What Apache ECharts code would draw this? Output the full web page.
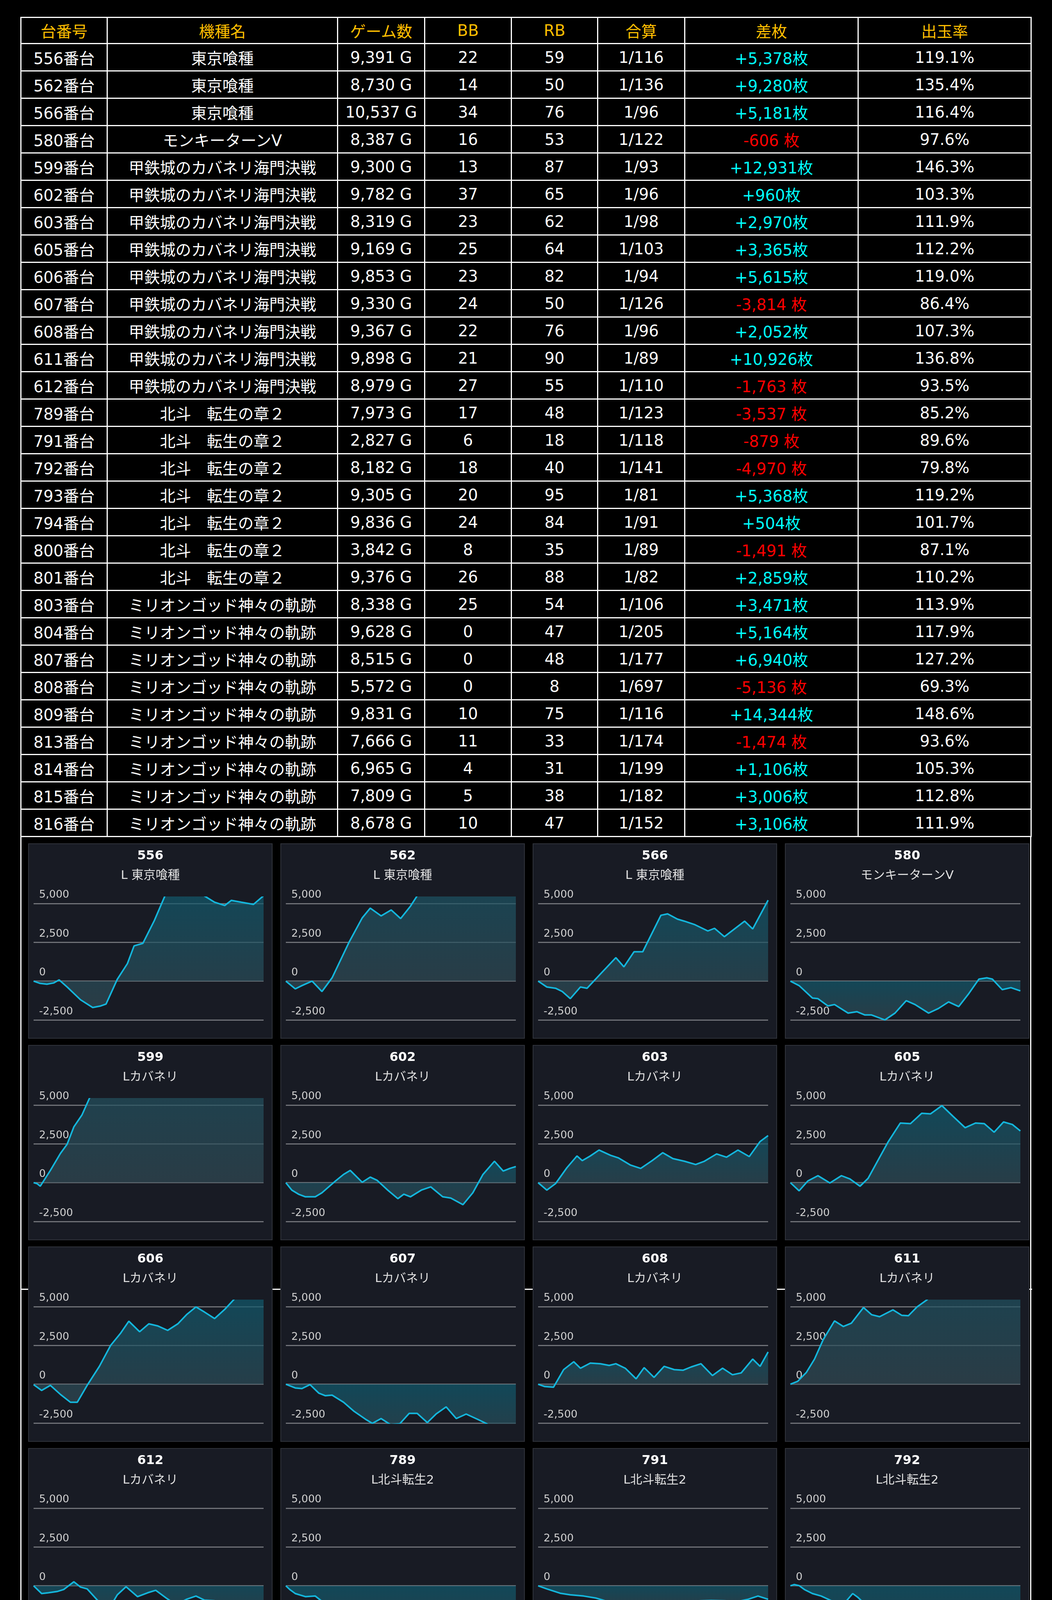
<!DOCTYPE html>
<html>
<head>
<meta charset="utf-8">
<script src="https://cdn.jsdelivr.net/npm/echarts@6/dist/echarts.min.js"></script>
<style>
html, body { margin:0; padding:0; background:#000; }
body { width:2694px; height:6291px; position:relative; overflow:hidden; }
#tbl { position:absolute; left:52px; top:43px; border-collapse:collapse; table-layout:fixed;
       font-family:'DejaVu Sans','Noto Sans CJK JP',sans-serif; font-size:40px; color:#fff; z-index:2; }
#tbl td, #tbl th { border:3px solid #fff; text-align:center; vertical-align:middle; padding:0;
       white-space:nowrap; overflow:hidden; height:67px; }
#tbl th { color:#ffbf00; font-weight:normal; height:64px; }
.plus { color:#00ffff; }
.minus { color:#ff0000; }
.vline { position:absolute; background:#fff; width:3px; top:2140px; height:4151px; }
.hline { position:absolute; background:#fff; height:3px; left:52px; width:2591px; }
.panel { position:absolute; width:626px; height:500px; background:#181b24; border:2px solid #30333b; box-sizing:border-box; }
#charts { position:absolute; left:0; top:2150px; width:2694px; height:4141px; z-index:3; }
</style>
</head>
<body>
<table id="tbl">
  <colgroup>
    <col style="width:221px"><col style="width:590px"><col style="width:223px"><col style="width:222px">
    <col style="width:221px"><col style="width:223px"><col style="width:444px"><col style="width:443px">
  </colgroup>
  <thead><tr id="head"></tr></thead>
  <tbody id="body"></tbody>
</table>
<div id="frames"></div>
<div id="charts"></div>
<script>
var headers = ['台番号', '機種名', 'ゲーム数', 'BB', 'RB', '合算', '差枚', '出玉率'];

var unitNos = [556, 562, 566, 580, 599, 602, 603, 605, 606, 607, 608, 611, 612, 789, 791, 792, 793, 794, 800, 801, 803, 804, 807, 808, 809, 813, 814, 815, 816];
var modelNames = ['東京喰種', '東京喰種', '東京喰種', 'モンキーターンV',
    '甲鉄城のカバネリ海門決戦', '甲鉄城のカバネリ海門決戦', '甲鉄城のカバネリ海門決戦', '甲鉄城のカバネリ海門決戦', '甲鉄城のカバネリ海門決戦',
    '甲鉄城のカバネリ海門決戦', '甲鉄城のカバネリ海門決戦', '甲鉄城のカバネリ海門決戦', '甲鉄城のカバネリ海門決戦',
    '北斗　転生の章２', '北斗　転生の章２', '北斗　転生の章２', '北斗　転生の章２', '北斗　転生の章２', '北斗　転生の章２', '北斗　転生の章２',
    'ミリオンゴッド神々の軌跡', 'ミリオンゴッド神々の軌跡', 'ミリオンゴッド神々の軌跡', 'ミリオンゴッド神々の軌跡', 'ミリオンゴッド神々の軌跡',
    'ミリオンゴッド神々の軌跡', 'ミリオンゴッド神々の軌跡', 'ミリオンゴッド神々の軌跡', 'ミリオンゴッド神々の軌跡'];
var panelNames = ['L 東京喰種', 'L 東京喰種', 'L 東京喰種', 'モンキーターンV',
    'Lカバネリ', 'Lカバネリ', 'Lカバネリ', 'Lカバネリ', 'Lカバネリ', 'Lカバネリ', 'Lカバネリ', 'Lカバネリ', 'Lカバネリ',
    'L北斗転生2', 'L北斗転生2', 'L北斗転生2', 'L北斗転生2', 'L北斗転生2', 'L北斗転生2', 'L北斗転生2',
    'Lミリオンゴッド', 'Lミリオンゴッド', 'Lミリオンゴッド', 'Lミリオンゴッド', 'Lミリオンゴッド',
    'Lミリオンゴッド', 'Lミリオンゴッド', 'Lミリオンゴッド', 'Lミリオンゴッド'];
var gameCounts = [9391, 8730, 10537, 8387, 9300, 9782, 8319, 9169, 9853, 9330, 9367, 9898, 8979, 7973, 2827, 8182, 9305, 9836, 3842, 9376, 8338, 9628, 8515, 5572, 9831, 7666, 6965, 7809, 8678];
var bbCounts = [22, 14, 34, 16, 13, 37, 23, 25, 23, 24, 22, 21, 27, 17, 6, 18, 20, 24, 8, 26, 25, 0, 0, 0, 10, 11, 4, 5, 10];
var rbCounts = [59, 50, 76, 53, 87, 65, 62, 64, 82, 50, 76, 90, 55, 48, 18, 40, 95, 84, 35, 88, 54, 47, 48, 8, 75, 33, 31, 38, 47];
var combinedOdds = [116, 136, 96, 122, 93, 96, 98, 103, 94, 126, 96, 89, 110, 123, 118, 141, 81, 91, 89, 82, 106, 205, 177, 697, 116, 174, 199, 182, 152];
var diffCoins = [5378, 9280, 5181, -606, 12931, 960, 2970, 3365, 5615, -3814, 2052, 10926, -1763, -3537, -879, -4970, 5368, 504, -1491, 2859, 3471, 5164, 6940, -5136, 14344, -1474, 1106, 3006, 3106];
var payoutRates = [119.1, 135.4, 116.4, 97.6, 146.3, 103.3, 111.9, 112.2, 119.0, 86.4, 107.3, 136.8, 93.5, 85.2, 89.6, 79.8, 119.2, 101.7, 87.1, 110.2, 113.9, 117.9, 127.2, 69.3, 148.6, 93.6, 105.3, 112.8, 111.9];

// y axis ticks of every small chart
var yMin = -2500, yMax = 5400, yStep = 2500;

// progress (0-100) , 差枚
var s556 = [[0,0],[2.9,-150],[5.8,-200],[8.7,-120],[11.1,80],[14.6,-380],[20.4,-1200],[25.7,-1700],[29.2,-1600],[31.5,-1480],[36.4,120],[40.8,1130],[43.7,2270],[47.5,2430],[52.5,3900],[58.3,5900],[67.1,6100],[75.2,5400],[78.7,5080],[83.1,4870],[86,5200],[90.4,5080],[95.6,4940],[100,5500]];
var s562 = [[0,0],[4.1,-500],[7,-290],[11.4,0],[15.7,-670],[20.1,210],[27.4,2480],[33.2,4070],[36.7,4700],[41.4,4200],[45.8,4580],[49.9,4030],[54.2,4830],[58,5700],[70,7000],[85,8300],[100,9280]];
var s566 = [[0,0],[3.8,-380],[7.6,-460],[10.5,-670],[14,-1130],[18.4,-380],[21.3,-460],[27.1,460],[33.8,1510],[37.3,920],[41.7,1890],[45.5,1890],[53.4,4240],[56.3,4330],[60.6,3990],[63.6,3860],[67.9,3650],[73.8,3230],[76.7,3400],[81,2860],[89.8,3860],[93.3,3360],[100,5210]];
var s580 = [[0,0],[3.8,-290],[9.6,-1090],[12,-1130],[16.3,-1600],[19.2,-1510],[25.1,-2060],[28.9,-1970],[32.4,-2180],[35.3,-2180],[41.1,-2500],[45.5,-2060],[50.4,-1260],[54.2,-1510],[60.1,-2060],[64.4,-1760],[68.8,-1340],[73.2,-1640],[77.6,-800],[82,130],[85.4,210],[87.8,130],[92.1,-550],[95.9,-420],[100,-630]];
var s599 = [[0,0],[1.5,-60],[2.9,-230],[7.3,790],[11.7,1890],[14.6,2480],[17.5,3590],[21,4350],[26,6000],[40,8000],[60,10000],[80,11500],[100,12931]];
var s602 = [[0,0],[2.6,-480],[5.5,-740],[8.5,-910],[12.8,-910],[15.7,-650],[21.6,110],[25.1,530],[28,790],[33.2,25],[36.7,360],[39.7,150],[44.3,-480],[48.7,-1030],[51.3,-740],[54.2,-910],[58.9,-480],[63,-270],[68.2,-910],[71.7,-990],[77,-1420],[81.3,-650],[85.7,530],[90.7,1380],[94.5,750],[97.4,920],[100,1040]];
var s603 = [[0,0],[3.8,-480],[7.6,-60],[12.5,960],[16.9,1720],[19.2,1420],[22.7,1720],[26.5,2100],[31.5,1760],[35,1590],[40.2,1130],[44.6,920],[49.6,1420],[54.2,1930],[58.6,1550],[63.6,1380],[68.5,1170],[72.3,1380],[77.6,1850],[81.9,1640],[86.9,2100],[91.8,1680],[96.5,2650],[100,3030]];
var s605 = [[0,0],[3.8,-525],[7.6,110],[12,450],[17.2,-20],[22.2,450],[25.9,240],[30.3,-230],[33.8,280],[38.2,1470],[42.6,2650],[47.8,3840],[52.2,3800],[57.1,4470],[60.9,4430],[65.9,4960],[70.8,4260],[76,3540],[80.5,3840],[84.3,3800],[88.6,3250],[92.7,3910],[96.5,3750],[100,3330]];
var s606 = [[0,-25],[3.5,-400],[7.3,-70],[11.7,-660],[16,-1160],[19,-1160],[23.3,-70],[28.6,1150],[33.5,2500],[37.9,3300],[41.4,4060],[46.1,3380],[50.1,3890],[53.9,3760],[58.3,3470],[62.7,3890],[66.5,4480],[70.6,4980],[74.3,4650],[78.7,4230],[83.1,4820],[88,5600],[94,5700],[100,5615]];
var s607 = [[0,0],[4.1,-240],[7,-280],[10.5,-25],[14.3,-570],[17.2,-740],[20.1,-700],[25.1,-1160],[29.7,-1750],[34.7,-2260],[37.6,-2520],[41.4,-2210],[45.5,-2600],[49.5,-2550],[53.6,-1880],[57.1,-1880],[61.5,-2470],[65.3,-1920],[69.7,-1460],[74.1,-2210],[78.4,-1920],[83.4,-2260],[87.2,-2530],[93,-3200],[100,-3814]];
var s608 = [[0,0],[2.9,-150],[6.7,-190],[11.1,940],[15.5,1450],[18.4,1030],[22.7,1360],[27.1,1320],[30.9,1210],[33.8,1320],[37.9,1030],[42.6,350],[46.1,1070],[50.4,440],[54.8,1150],[59.2,940],[63,900],[66.5,1110],[70.8,1320],[75.8,560],[80.2,1030],[84.5,610],[88.3,730],[93.3,1620],[96.5,1150],[100,2080]];
var s611 = [[0,0],[3.2,190],[7,770],[10.5,1620],[14.3,2880],[19.2,4080],[23,3720],[26.5,3930],[31.8,4940],[35.3,4480],[38.8,4350],[44.6,4790],[48.4,4440],[51.3,4410],[55.1,4980],[59.5,5450],[70,7200],[85,9200],[100,10926]];
var s612 = [[0,0],[3.5,-500],[6.4,-450],[10.2,-370],[13.1,-240],[17.5,260],[20.4,-80],[23.3,-200],[27.7,-920],[32.7,-1500],[36.4,-580],[40.2,-60],[45.2,-700],[49.6,-450],[53.1,-290],[57.7,-790],[61.8,-1210],[66.5,-870],[70.6,-660],[74.3,-920],[78.7,-960],[84,-1550],[88,-1630],[93.3,-1760],[96.8,-1920],[99.1,-2010],[100,-1760]];
var s789 = [[0,0],[1.7,-240],[4.1,-500],[8.5,-700],[12.8,-660],[15.7,-1000],[18.7,-1250],[23,-1500],[27.4,-2010],[30.3,-2300],[33.5,-2600],[45,-2900],[60,-3100],[75,-3300],[90,-3450],[100,-3537]];
var s791 = [[0,0],[3.8,-200],[9.6,-480],[14,-580],[19.8,-660],[25.1,-790],[30,-1000],[35,-1210],[40.2,-1440],[44.6,-1210],[47.5,-1130],[53.4,-1080],[59.2,-1040],[65,-1000],[70.8,-960],[75.2,-940],[81,-960],[86.9,-1000],[91.3,-870],[95.6,-660],[100,-870]];
var s792 = [[0,0],[1.7,80],[3.8,10],[6.1,-240],[9.6,-500],[13.4,-660],[17.8,-960],[20.7,-1170],[23,-1210],[27.1,-500],[29.4,-750],[32.4,-1170],[36.7,-1500],[41.1,-1920],[45.5,-2340],[50,-2600],[60,-3200],[75,-4000],[90,-4600],[100,-4970]];
var s793 = [[0,-30],[2.9,-200],[7.3,260],[11.1,-200],[15.2,-750],[19,-460],[21.9,220],[24.8,1400],[27.7,2590],[30.6,3520],[32.7,4060],[35.6,3940],[40.2,4740],[44.3,4060],[48.1,4870],[52.5,4190],[56.9,3680],[61.8,4700],[67.1,4610],[71.7,4280],[75,5600],[80,5550],[85,5380],[88.6,5420],[93.6,5120],[97.4,5170],[100,5450]];
var s794 = [[0,0],[4.1,640],[7.6,980],[12.2,470],[15.7,50],[21,560],[25.1,730],[28.9,980],[33.2,680],[37.6,-80],[42,-540],[45.5,-630],[50.7,1020],[55.1,300],[59.5,-30],[63,180],[68.2,-580],[71.7,-710],[77,-1010],[81.3,350],[85.1,-120],[93,1150],[97.4,560],[100,390]];
var s800 = [[0,30],[5.8,30],[10.5,-290],[15.5,-580],[20.4,-710],[25.7,-840],[31.5,-1010],[35.9,-1260],[39.9,-1510],[44.3,-1680],[48.4,-1770],[51.9,-1680],[56.3,-1600],[62.1,-1810],[67.9,-1980],[73.8,-1810],[78.1,-1720],[82.5,-1390],[87.5,-960],[92.1,-1130],[95.6,-1340],[100,-1550]];
var s801 = [[0,0],[3.2,560],[6.1,50],[9,-120],[13.4,-370],[17.2,-580],[20.7,-750],[25.1,-290],[28,-710],[31.5,-1050],[35.3,-460],[38.8,810],[44.6,1400],[49.9,850],[54.2,1020],[58.6,1110],[63,1610],[67.9,900],[71.7,640],[76.1,770],[81,640],[85.4,1190],[89.2,940],[93.6,1740],[96.5,2500],[100,2920]];
var s803 = [[0,0],[4.4,-550],[9.3,-1100],[14.6,-760],[19,-1390],[25.4,-1980],[29.7,-1020],[33.5,-850],[37.9,-70],[41.4,-390],[45.2,120],[49.6,240],[53.1,-300],[57.7,-470],[61.8,1000],[65.6,870],[70.6,290],[75.2,200],[79.3,-130],[84.5,620],[88.9,80],[93.3,-470],[96.2,2300],[100,3520]];
var s804 = [[0,0],[2.6,290],[6.1,120],[10.5,-720],[14.3,30],[18.7,-340],[21.6,-430],[25.1,-600],[29.7,2550],[33.8,4570],[37.6,4280],[42,4440],[46.4,3730],[50.7,3060],[54.2,2340],[58.9,4820],[63,4950],[67.3,5600],[72.6,4820],[75.5,4440],[79.3,4150],[83.4,3440],[88,4490],[92.4,5030],[97.4,4190],[100,5160]];
var s807 = [[0,-50],[3.8,200],[8.7,500],[14,-300],[19.2,-1180],[24.2,-1020],[26.5,30],[30,1340],[33.8,1130],[38.8,370],[42.6,120],[48.1,1590],[51.9,1040],[56.3,370],[60.6,120],[65.6,870],[69.4,620],[74.6,-220],[79.6,80],[84.5,1970],[89.2,2720],[95,5600],[100,6940]];
var s808 = [[0,0],[4.7,-550],[9.6,-1060],[14.3,-1440],[19.2,-1520],[23,-1560],[27.1,-1600],[31.8,-1900],[35.3,-1770],[39.7,-2150],[44.9,-2500],[60,-3400],[80,-4400],[100,-5136]];
var s809 = [[0,0],[2.9,-470],[5.2,620],[7.3,2130],[10.2,2220],[13.1,2340],[16,2510],[19.8,5070],[24,5700],[32,5700],[37,5060],[40,5700],[48,5800],[53.9,4920],[59,5700],[70,8000],[85,11500],[100,14344]];
var s813 = [[0,0],[3.5,450],[8.5,-260],[14.3,-850],[18.7,-390],[23.6,1460],[28.9,620],[33.8,-90],[36.2,540],[40.5,1000],[44.9,330],[49.3,-300],[54.2,-680],[58.9,500],[62.4,580],[66.8,30],[71.1,410],[76.4,-180],[81.3,-810],[86.3,-1350],[90,-1440],[94.5,-1560],[98,-1690],[100,-1440]];
var s814 = [[0,0],[4.7,-550],[9.6,-1100],[14,-1600],[18.4,-1810],[23.3,-2230],[30,-2020],[34.5,-2550],[37.9,-2500],[41.7,-1980],[45.2,-890],[50.4,-1650],[54.8,-2150],[57.7,-2500],[62,-2800],[68,-2700],[75.2,-2500],[78.1,-2150],[80.5,-2500],[85,-2900],[91.3,-2500],[100,1080]];
var s815 = [[0,0],[4.7,-600],[9.6,540],[14.9,1590],[19.2,1290],[24.2,3490],[28,3060],[32.4,2550],[36.7,2810],[41.7,2130],[46.9,1550],[52.2,1040],[56.3,1460],[61.5,920],[65.9,790],[70.8,710],[74.9,540],[80.5,3180],[86.3,2470],[90.7,2470],[95,2890],[98.8,3230],[100,3060]];
var s816 = [[0,0],[3.8,-460],[6.8,-270],[9.5,-190],[12.5,-140],[13.6,-270],[18.9,2470],[25,5500],[31,5900],[36.5,5500],[40.8,4840],[46.1,4030],[50.6,3820],[57.4,2890],[61.9,3270],[65.7,3220],[69.5,3020],[74,3300],[78.1,2730],[81.9,2620],[84.9,3060],[88.8,2430],[92.9,3300],[97.1,3060],[100,3150]];

var curves = [s556, s562, s566, s580, s599, s602, s603, s605, s606, s607, s608, s611, s612,
    s789, s791, s792, s793, s794, s800, s801, s803, s804, s807, s808, s809, s813, s814, s815, s816];

var FONT = "'DejaVu Sans', 'Noto Sans CJK JP', sans-serif";

function fmt(n) { return n.toLocaleString('en-US'); }

// ---- table ----
document.getElementById('head').innerHTML = headers.map(function (h) { return '<th>' + h + '</th>'; }).join('');
var rows = unitNos.map(function (no, i) {
    var d = diffCoins[i];
    var diffCell = d >= 0
        ? '<td class="plus">+' + fmt(d) + '枚</td>'
        : '<td class="minus">-' + fmt(-d) + ' 枚</td>';
    return '<tr><td>' + no + '番台</td><td>' + modelNames[i] + '</td><td>' + fmt(gameCounts[i]) + ' G</td>' +
        '<td>' + bbCounts[i] + '</td><td>' + rbCounts[i] + '</td><td>1/' + combinedOdds[i] + '</td>' +
        diffCell + '<td>' + payoutRates[i].toFixed(1) + '%</td></tr>';
});
document.getElementById('body').innerHTML = rows.join('');

// ---- panel frames ----
var frames = '<div class="vline" style="left:52px"></div><div class="vline" style="left:2638px"></div>' +
    '<div class="hline" style="top:3299px"></div><div class="hline" style="top:4455px"></div>';
unitNos.forEach(function (no, i) {
    var r = Math.floor(i / 4), c = i % 4;
    frames += '<div class="panel" style="left:' + (72 + 646 * c) + 'px;top:' + (2159 + 516 * r) + 'px"></div>';
});
document.getElementById('frames').innerHTML = frames;

// ---- small charts ----
var myChart = echarts.init(document.getElementById('charts'));
var titles = [], grids = [], xAxes = [], yAxes = [], seriesList = [];
unitNos.forEach(function (no, i) {
    var r = Math.floor(i / 4), c = i % 4;
    var px = 72 + 646 * c, py = 9 + 516 * r;
    titles.push({
        text: String(no),
        subtext: panelNames[i],
        left: px + 313,
        top: py + 17,
        textAlign: 'center',
        padding: 0,
        itemGap: 18,
        textStyle: { color: '#ffffff', fontSize: 32, fontWeight: 'bold', lineHeight: 32, fontFamily: FONT },
        subtextStyle: { color: '#e2e2e2', fontSize: 31, lineHeight: 32, fontFamily: FONT }
    });
    grids.push({ left: px + 14, top: py + 138, width: 589, height: 314, outerBoundsMode: 'none' });
    xAxes.push({ type: 'value', gridIndex: i, min: 0, max: 100, show: false });
    yAxes.push({
        type: 'value',
        gridIndex: i,
        min: yMin,
        max: yMax,
        interval: yStep,
        z: 3,
        axisLine: { show: false },
        axisTick: { show: false },
        axisLabel: {
            inside: true,
            showMaxLabel: false,
            align: 'left',
            verticalAlign: 'bottom',
            margin: 14,
            padding: [0, 0, 8, 0],
            lineHeight: 27,
            color: '#cfcfcf',
            fontSize: 27,
            fontFamily: FONT,
            formatter: function (v) { return fmt(v); }
        },
        splitLine: {
            show: true,
            showMaxLine: false,
            lineStyle: {
                width: 3,
                color: ['rgba(255,255,255,0.38)', 'rgba(255,255,255,0.38)', 'rgba(255,255,255,0.38)', 'rgba(255,255,255,0.38)', 'rgba(0,0,0,0)']
            }
        }
    });
    seriesList.push({
        type: 'line',
        xAxisIndex: i,
        yAxisIndex: i,
        data: curves[i],
        symbol: 'none',
        clip: true,
        lineStyle: { color: '#14b6dc', width: 4 },
        areaStyle: {
            color: new echarts.graphic.LinearGradient(0, 0, 0, 1, [
                { offset: 0, color: '#0f5b70' },
                { offset: 1, color: '#324a55' }
            ])
        },
        animation: false
    });
});

myChart.setOption({
    backgroundColor: 'transparent',
    animation: false,
    title: titles,
    grid: grids,
    xAxis: xAxes,
    yAxis: yAxes,
    series: seriesList
});
</script>
</body>
</html>
